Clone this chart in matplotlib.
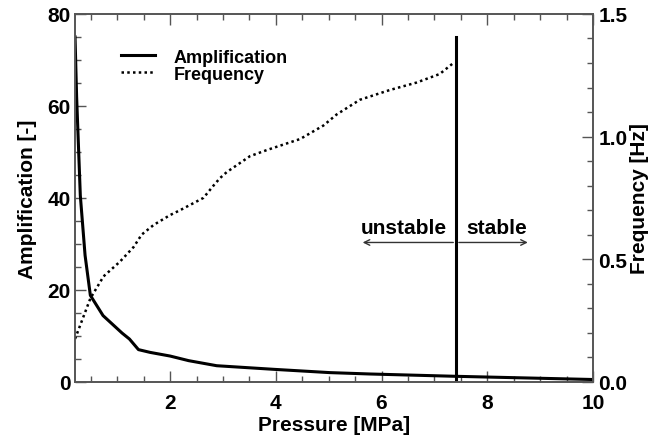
import matplotlib
matplotlib.use("Agg")
import matplotlib.pyplot as plt
from matplotlib.ticker import MultipleLocator

plt.rcParams['font.family'] = ['Liberation Sans', 'DejaVu Sans']
plt.rcParams['font.weight'] = 'bold'

# Amplification vs pressure
amp_p = [0.2, 0.23, 0.3, 0.39, 0.49, 0.73, 1.09, 1.23, 1.40, 1.62, 2.0, 2.35, 2.88, 3.98, 5.02, 5.78, 7.39, 10.0]
amp_v = [75.0, 62.0, 40.5, 27.5, 18.8, 14.4, 10.6, 9.3, 7.0, 6.4, 5.6, 4.6, 3.5, 2.7, 2.0, 1.7, 1.2, 0.5]

# Frequency vs pressure
freq_p = [0.2, 0.49, 0.74, 1.05, 1.31, 1.46, 1.69, 2.0, 2.19, 2.63, 2.82, 2.94, 3.07, 3.51, 3.83, 4.46, 4.9, 5.15, 5.59, 6.16, 6.66, 7.10, 7.36]
freq_v = [0.175, 0.34, 0.43, 0.49, 0.55, 0.60, 0.64, 0.68, 0.70, 0.75, 0.80, 0.83, 0.855, 0.92, 0.945, 0.99, 1.045, 1.09, 1.15, 1.19, 1.22, 1.255, 1.30]

threshold = 7.41
labels = ["Amplification", "Frequency"]

fig = plt.figure(figsize=(6.64, 4.39), dpi=100)
ax = fig.add_axes([0.113, 0.128, 0.780, 0.838])
ax2 = ax.twinx()

spine_col = '#555555'
for a in (ax, ax2):
    for s in a.spines.values():
        s.set_color(spine_col)
        s.set_linewidth(1.2)

l1, = ax.plot(amp_p, amp_v, color='black', lw=2.2, label=labels[0])
l2, = ax2.plot(freq_p, freq_v, color='black', lw=1.8, linestyle=(0, (1, 1.3)), label=labels[1])

ax.plot([threshold, threshold], [0, 75], color='black', lw=2.2)

ax.set_xlim(0.2, 10)
ax.set_ylim(0, 80)
ax2.set_ylim(0, 1.5)

ax.xaxis.set_major_locator(MultipleLocator(2))
ax.xaxis.set_minor_locator(MultipleLocator(0.5))
ax.yaxis.set_major_locator(MultipleLocator(20))
ax.yaxis.set_minor_locator(MultipleLocator(5))
ax2.yaxis.set_major_locator(MultipleLocator(0.5))
ax2.yaxis.set_minor_locator(MultipleLocator(0.1))
ax2.yaxis.set_major_formatter(plt.FormatStrFormatter('%.1f'))

ax.tick_params(axis='x', which='both', direction='in', top=True, colors=spine_col, labelcolor='black', labelsize=15, pad=8)
ax.tick_params(axis='y', which='both', direction='in', right=False, colors=spine_col, labelcolor='black', labelsize=15, pad=3)
ax2.tick_params(axis='y', which='both', direction='in', colors=spine_col, labelcolor='black', labelsize=15, pad=4)
for a in (ax, ax2):
    a.tick_params(which='major', length=8, width=1)
    a.tick_params(which='minor', length=4, width=1)

ax.set_xlabel('Pressure [MPa]', fontsize=15, fontweight='bold', labelpad=2)
ax.set_ylabel('Amplification [-]', fontsize=15, fontweight='bold', labelpad=8)
ax2.set_ylabel('Frequency [Hz]', fontsize=15, fontweight='bold', labelpad=2)

# stability annotation
ax.annotate('', xy=(5.59, 30.3), xytext=(threshold, 30.3),
            arrowprops=dict(arrowstyle='->', color='#333333', lw=1))
ax.annotate('', xy=(8.82, 30.3), xytext=(threshold, 30.3),
            arrowprops=dict(arrowstyle='->', color='#333333', lw=1))
ax.text(6.43, 33.6, 'unstable', ha='center', va='center', fontsize=15, fontweight='bold')
ax.text(8.17, 33.6, 'stable', ha='center', va='center', fontsize=15, fontweight='bold')

leg = ax.legend([l1, l2], labels, loc='upper left', bbox_to_anchor=(0.075, 0.925),
                frameon=False, fontsize=13, handlelength=1.9, handletextpad=1.0,
                labelspacing=0.0, borderaxespad=0)
for t in leg.get_texts():
    t.set_fontweight('bold')

fig.savefig('out.png', dpi=100)
